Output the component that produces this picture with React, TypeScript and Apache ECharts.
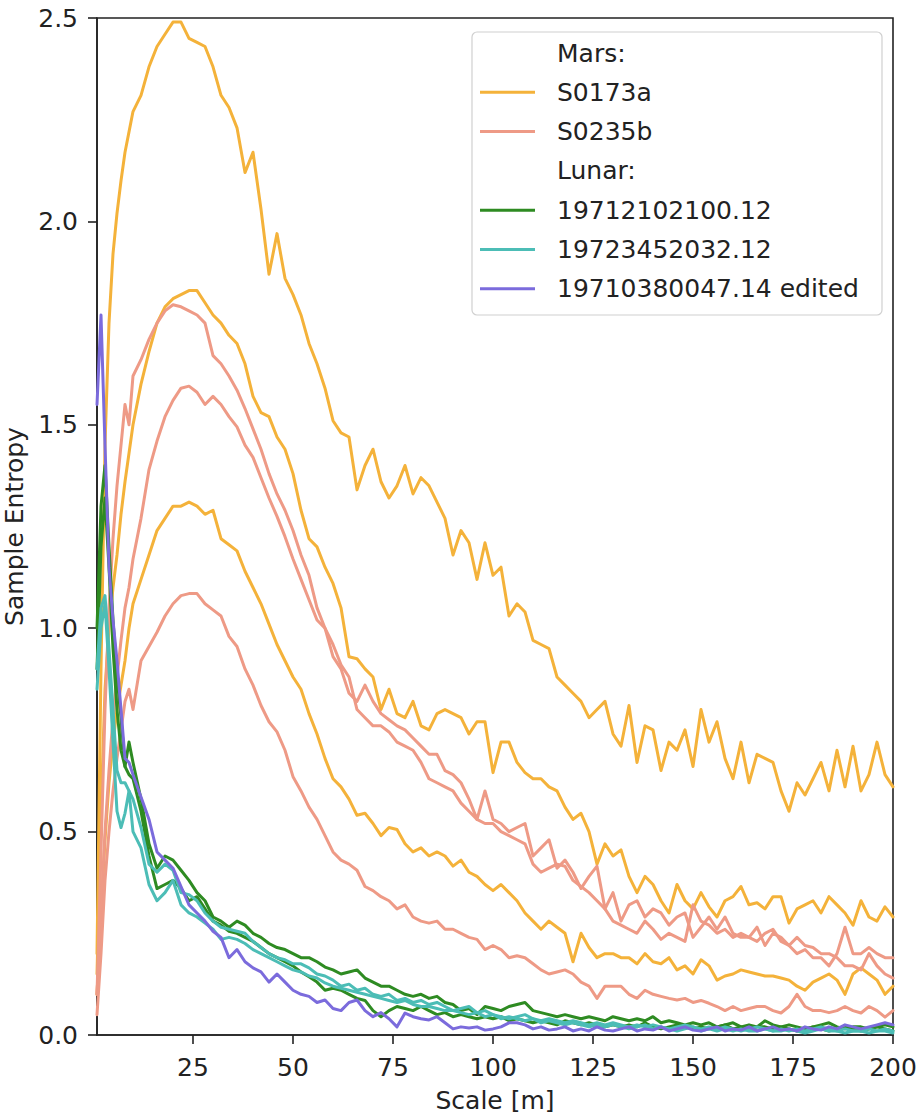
import React, { useEffect, useRef } from "react";
import * as echarts from "echarts";

// Scale values [m] shared by every curve
const scales = [
  1, 2, 3, 4, 5, 6, 7, 8, 9, 10,
  12, 14, 16, 18, 20, 22, 24, 26, 28, 30,
  32, 34, 36, 38, 40, 42, 44, 46, 48, 50,
  52, 54, 56, 58, 60, 62, 64, 66, 68, 70,
  72, 74, 76, 78, 80, 82, 84, 86, 88, 90,
  92, 94, 96, 98, 100, 102, 104, 106, 108, 110,
  112, 114, 116, 118, 120, 122, 124, 126, 128, 130,
  132, 134, 136, 138, 140, 142, 144, 146, 148, 150,
  152, 154, 156, 158, 160, 162, 164, 166, 168, 170,
  172, 174, 176, 178, 180, 182, 184, 186, 188, 190,
  192, 194, 196, 198, 200,
];

// Mars S0173a (three traces)
const marsA1 = [
  0.2, 0.9, 1.45, 1.75, 1.92, 2.02, 2.1, 2.17, 2.22, 2.27,
  2.31, 2.38, 2.43, 2.46, 2.49, 2.49, 2.45, 2.44, 2.43, 2.38,
  2.31, 2.28, 2.23, 2.12, 2.17, 2.03, 1.87, 1.97, 1.86, 1.82,
  1.77, 1.7, 1.65, 1.59, 1.51, 1.48, 1.47, 1.34, 1.4, 1.44,
  1.36, 1.32, 1.35, 1.4, 1.33, 1.37, 1.35, 1.31, 1.27, 1.18,
  1.24, 1.21, 1.12, 1.21, 1.13, 1.15, 1.03, 1.06, 1.04, 0.97,
  0.96, 0.95, 0.88, 0.86, 0.84, 0.82, 0.78, 0.8, 0.82, 0.74,
  0.71, 0.81, 0.67, 0.76, 0.75, 0.65, 0.72, 0.7, 0.75, 0.66,
  0.8, 0.72, 0.77, 0.68, 0.63, 0.72, 0.62, 0.69, 0.68, 0.67,
  0.6, 0.55, 0.62, 0.59, 0.63, 0.67, 0.6, 0.7, 0.61, 0.71,
  0.6, 0.64, 0.72, 0.64, 0.61,
];
const marsA2 = [
  0.15, 0.55, 0.85, 1.0, 1.1, 1.18, 1.28, 1.36, 1.43, 1.5,
  1.6, 1.68, 1.75, 1.79, 1.81, 1.82, 1.83, 1.83, 1.8, 1.77,
  1.75, 1.72, 1.7, 1.65, 1.57, 1.53, 1.52, 1.47, 1.44, 1.38,
  1.29, 1.22, 1.2, 1.15, 1.11, 1.05, 0.93, 0.925, 0.9, 0.88,
  0.8, 0.85, 0.79, 0.78, 0.82, 0.76, 0.75, 0.79, 0.8, 0.79,
  0.78, 0.74, 0.77, 0.77, 0.645, 0.72, 0.72, 0.67, 0.645, 0.63,
  0.63, 0.61, 0.6, 0.56, 0.53, 0.545, 0.5, 0.42, 0.47, 0.44,
  0.455, 0.39, 0.35, 0.39, 0.37, 0.33, 0.3, 0.37, 0.33, 0.31,
  0.35, 0.315, 0.29, 0.33, 0.34, 0.365, 0.32, 0.325, 0.31, 0.34,
  0.34, 0.275, 0.31, 0.32, 0.33, 0.3, 0.34, 0.32, 0.3, 0.27,
  0.33, 0.29, 0.28, 0.315, 0.29,
];
const marsA3 = [
  0.1, 0.3, 0.48, 0.62, 0.72, 0.8, 0.86, 0.92, 1.0, 1.06,
  1.12, 1.18, 1.24, 1.27, 1.3, 1.3, 1.31, 1.3, 1.28, 1.29,
  1.22, 1.205, 1.19, 1.14, 1.1, 1.06, 1.01, 0.96, 0.92, 0.88,
  0.85, 0.79, 0.74, 0.68, 0.63, 0.61, 0.58, 0.54, 0.545, 0.52,
  0.49, 0.51, 0.505, 0.47, 0.45, 0.46, 0.44, 0.45, 0.44, 0.415,
  0.43, 0.4, 0.39, 0.37, 0.355, 0.37, 0.35, 0.33, 0.3, 0.28,
  0.26, 0.28, 0.265, 0.25, 0.18, 0.25, 0.215, 0.19, 0.2, 0.2,
  0.19, 0.19, 0.175, 0.2, 0.18, 0.175, 0.19, 0.16, 0.17, 0.15,
  0.185, 0.17, 0.135, 0.145, 0.15, 0.16, 0.155, 0.15, 0.145, 0.145,
  0.14, 0.135, 0.12, 0.11, 0.13, 0.14, 0.15, 0.135, 0.1, 0.15,
  0.165, 0.15, 0.135, 0.1, 0.12,
];

// Mars S0235b (three traces)
const marsB1 = [
  0.1, 0.45, 0.8, 1.05, 1.22, 1.35, 1.45, 1.55, 1.5, 1.62,
  1.66, 1.71, 1.75, 1.78, 1.795, 1.79, 1.78, 1.77, 1.75, 1.67,
  1.65, 1.62, 1.585, 1.54, 1.49, 1.44, 1.38, 1.33, 1.29, 1.24,
  1.18, 1.13, 1.05, 1.0, 0.93, 0.9, 0.84, 0.82, 0.86, 0.82,
  0.79, 0.775, 0.76, 0.75, 0.73, 0.71, 0.69, 0.69, 0.65, 0.64,
  0.62, 0.58, 0.53, 0.6, 0.53, 0.52, 0.5, 0.51, 0.52, 0.44,
  0.46, 0.48, 0.41, 0.43, 0.4, 0.36, 0.39, 0.415, 0.31, 0.35,
  0.28, 0.32, 0.33, 0.29, 0.31, 0.3, 0.27, 0.29, 0.3, 0.24,
  0.265, 0.29, 0.26, 0.29, 0.25, 0.24, 0.24, 0.265, 0.22, 0.25,
  0.24, 0.22, 0.2, 0.21, 0.19, 0.19, 0.17, 0.2, 0.265, 0.2,
  0.2, 0.215, 0.2, 0.19, 0.19,
];
const marsB2 = [
  0.1, 0.3, 0.5, 0.65, 0.78, 0.88, 0.97, 1.05, 1.1, 1.17,
  1.27, 1.39, 1.46, 1.52, 1.56, 1.59, 1.595, 1.58, 1.55, 1.57,
  1.55, 1.52, 1.495, 1.45, 1.42, 1.37, 1.32, 1.275, 1.225, 1.17,
  1.12, 1.07, 1.02, 1.0, 0.96, 0.91, 0.88, 0.8, 0.78, 0.76,
  0.76, 0.745, 0.72, 0.71, 0.7, 0.67, 0.63, 0.62, 0.61, 0.6,
  0.57, 0.55, 0.53, 0.52, 0.52, 0.5, 0.49, 0.48, 0.47, 0.42,
  0.4, 0.41, 0.42, 0.415, 0.38, 0.365, 0.35, 0.33, 0.31, 0.28,
  0.27, 0.26, 0.25, 0.28, 0.26, 0.235, 0.25, 0.24, 0.23, 0.32,
  0.28, 0.27, 0.25, 0.26, 0.24, 0.25, 0.24, 0.23, 0.25, 0.26,
  0.23, 0.22, 0.24, 0.22, 0.215, 0.2, 0.2, 0.19, 0.17, 0.17,
  0.16, 0.2, 0.17, 0.15, 0.14,
];
const marsB3 = [
  0.05, 0.2, 0.38, 0.5, 0.6, 0.68, 0.75, 0.82, 0.85, 0.8,
  0.92, 0.955, 0.99, 1.03, 1.06, 1.08, 1.085, 1.085, 1.06, 1.045,
  1.03, 0.98, 0.955, 0.9, 0.86, 0.81, 0.77, 0.745, 0.7, 0.635,
  0.6, 0.56, 0.53, 0.49, 0.45, 0.43, 0.42, 0.405, 0.365, 0.355,
  0.34, 0.33, 0.31, 0.32, 0.29, 0.28, 0.275, 0.28, 0.26, 0.26,
  0.25, 0.24, 0.235, 0.21, 0.22, 0.21, 0.19, 0.195, 0.19, 0.175,
  0.16, 0.15, 0.155, 0.16, 0.15, 0.13, 0.12, 0.09, 0.12, 0.12,
  0.12, 0.1, 0.09, 0.11, 0.1, 0.095, 0.09, 0.086, 0.09, 0.08,
  0.085, 0.078, 0.07, 0.06, 0.07, 0.06, 0.065, 0.07, 0.07, 0.06,
  0.054, 0.07, 0.1, 0.07, 0.06, 0.06, 0.055, 0.06, 0.07, 0.06,
  0.054, 0.07, 0.06, 0.044, 0.06,
];

// Lunar 19712102100.12 (two traces)
const lunarG1 = [
  1.0, 1.3, 1.4, 1.2, 1.02, 0.88, 0.78, 0.66, 0.72, 0.67,
  0.58, 0.47, 0.41, 0.44, 0.43, 0.405, 0.38, 0.35, 0.33, 0.29,
  0.28, 0.265, 0.28, 0.27, 0.25, 0.24, 0.225, 0.215, 0.21, 0.2,
  0.19, 0.19, 0.18, 0.167, 0.16, 0.15, 0.155, 0.16, 0.14, 0.13,
  0.12, 0.12, 0.11, 0.1, 0.095, 0.1, 0.09, 0.095, 0.08, 0.075,
  0.06, 0.065, 0.05, 0.07, 0.065, 0.06, 0.07, 0.075, 0.08, 0.06,
  0.055, 0.05, 0.045, 0.05, 0.045, 0.04, 0.045, 0.04, 0.035, 0.045,
  0.04, 0.035, 0.04, 0.035, 0.045, 0.03, 0.035, 0.03, 0.025, 0.03,
  0.025, 0.03, 0.02, 0.025, 0.03, 0.02, 0.025, 0.02, 0.035, 0.025,
  0.02, 0.025, 0.02, 0.015, 0.02, 0.025, 0.03, 0.02, 0.015, 0.02,
  0.02, 0.015, 0.02, 0.025, 0.02,
];
const lunarG2 = [
  0.9, 1.2, 1.32, 1.15, 0.95, 0.8, 0.7, 0.66, 0.64, 0.63,
  0.55, 0.44, 0.36, 0.37, 0.38, 0.36, 0.33, 0.34, 0.31, 0.28,
  0.27, 0.255, 0.25, 0.24, 0.23, 0.215, 0.2, 0.19, 0.18, 0.17,
  0.155, 0.143, 0.13, 0.11, 0.115, 0.11, 0.1, 0.09, 0.085, 0.06,
  0.045, 0.06, 0.07, 0.065, 0.06, 0.07, 0.06, 0.05, 0.055, 0.045,
  0.05, 0.045, 0.04, 0.045, 0.04, 0.045, 0.035, 0.04, 0.035, 0.03,
  0.035, 0.03, 0.025, 0.035, 0.03, 0.025, 0.03, 0.025, 0.02, 0.025,
  0.02, 0.025, 0.02, 0.03, 0.02, 0.015, 0.02, 0.025, 0.02, 0.015,
  0.02, 0.015, 0.02, 0.025, 0.015, 0.02, 0.015, 0.02, 0.02, 0.015,
  0.02, 0.015, 0.01, 0.015, 0.02, 0.015, 0.01, 0.015, 0.02, 0.015,
  0.01, 0.015, 0.02, 0.015, 0.01,
];

// Lunar 19723452032.12 (two traces)
const lunarT1 = [
  0.9, 1.05, 1.08, 0.95, 0.8, 0.65, 0.62, 0.62, 0.6, 0.58,
  0.51, 0.42, 0.4, 0.42, 0.405, 0.35, 0.345, 0.33, 0.3, 0.28,
  0.265, 0.26, 0.255, 0.25, 0.23, 0.215, 0.2, 0.19, 0.185, 0.175,
  0.175, 0.165, 0.15, 0.145, 0.135, 0.12, 0.125, 0.11, 0.115, 0.1,
  0.095, 0.1, 0.085, 0.09, 0.08, 0.085, 0.075, 0.08, 0.07, 0.06,
  0.065, 0.07, 0.055, 0.06, 0.05, 0.045, 0.04, 0.045, 0.05, 0.04,
  0.035, 0.04, 0.035, 0.03, 0.035, 0.03, 0.025, 0.03, 0.025, 0.03,
  0.025, 0.02, 0.025, 0.02, 0.025, 0.02, 0.015, 0.02, 0.025, 0.02,
  0.015, 0.02, 0.015, 0.02, 0.015, 0.01, 0.015, 0.02, 0.015, 0.01,
  0.015, 0.01, 0.015, 0.01, 0.015, 0.02, 0.015, 0.01, 0.015, 0.01,
  0.01, 0.015, 0.01, 0.015, 0.01,
];
const lunarT2 = [
  0.85, 1.0, 1.06, 0.9, 0.72, 0.55, 0.51, 0.545, 0.6, 0.5,
  0.46, 0.37, 0.33, 0.35, 0.38, 0.32, 0.3, 0.29, 0.275, 0.26,
  0.235, 0.24, 0.235, 0.225, 0.21, 0.2, 0.19, 0.18, 0.17, 0.16,
  0.155, 0.145, 0.14, 0.128, 0.12, 0.115, 0.11, 0.105, 0.1, 0.095,
  0.09, 0.085, 0.08, 0.085, 0.075, 0.07, 0.07, 0.065, 0.06, 0.06,
  0.055, 0.05, 0.055, 0.045, 0.05, 0.04, 0.045, 0.04, 0.035, 0.04,
  0.03, 0.035, 0.03, 0.025, 0.03, 0.025, 0.02, 0.025, 0.02, 0.025,
  0.02, 0.015, 0.02, 0.025, 0.015, 0.02, 0.015, 0.01, 0.015, 0.02,
  0.01, 0.015, 0.01, 0.015, 0.01, 0.015, 0.01, 0.01, 0.015, 0.01,
  0.01, 0.015, 0.01, 0.005, 0.01, 0.015, 0.01, 0.01, 0.005, 0.01,
  0.01, 0.005, 0.01, 0.01, 0.005,
];

// Lunar 19710380047.14 edited
const lunarP = [
  1.55, 1.77, 1.45, 1.15, 1.02, 0.92, 0.8, 0.68, 0.67, 0.64,
  0.585, 0.53, 0.45, 0.43, 0.41, 0.365, 0.32, 0.3, 0.28, 0.255,
  0.24, 0.19, 0.21, 0.18, 0.165, 0.155, 0.13, 0.15, 0.13, 0.11,
  0.1, 0.095, 0.08, 0.086, 0.065, 0.06, 0.08, 0.086, 0.06, 0.045,
  0.055, 0.04, 0.02, 0.054, 0.045, 0.04, 0.037, 0.045, 0.03, 0.015,
  0.02, 0.017, 0.02, 0.012, 0.015, 0.02, 0.03, 0.03, 0.025, 0.015,
  0.02, 0.012, 0.015, 0.02, 0.01, 0.015, 0.01, 0.02, 0.012, 0.01,
  0.015, 0.02, 0.01, 0.015, 0.012, 0.02, 0.01, 0.015, 0.02, 0.012,
  0.01, 0.015, 0.02, 0.01, 0.015, 0.012, 0.02, 0.01, 0.015, 0.02,
  0.012, 0.015, 0.01, 0.02, 0.015, 0.012, 0.02, 0.015, 0.025, 0.02,
  0.015, 0.02, 0.025, 0.03, 0.025,
];

const xTickValues = [25, 50, 75, 100, 125, 150, 175, 200];

const ORANGE = "#F4B23A";
const SALMON = "#EE9A86";
const GREEN = "#2E8B22";
const TEAL = "#4CBDB6";
const PURPLE = "#7B6BDC";

const FONT = "DejaVu Sans";
const TEXT = "#222222";
const FS = 25;
const LW = 3;

const traces = [
  { name: "S0173a", color: ORANGE, values: marsA1 },
  { name: "S0173a", color: ORANGE, values: marsA2 },
  { name: "S0173a", color: ORANGE, values: marsA3 },
  { name: "S0235b", color: SALMON, values: marsB1 },
  { name: "S0235b", color: SALMON, values: marsB2 },
  { name: "S0235b", color: SALMON, values: marsB3 },
  { name: "19712102100.12", color: GREEN, values: lunarG1 },
  { name: "19712102100.12", color: GREEN, values: lunarG2 },
  { name: "19723452032.12", color: TEAL, values: lunarT1 },
  { name: "19723452032.12", color: TEAL, values: lunarT2 },
  { name: "19710380047.14 edited", color: PURPLE, values: lunarP },
];

const legendRows: { label: string; color: string | null }[] = [
  { label: "Mars:", color: null },
  { label: "S0173a", color: ORANGE },
  { label: "S0235b", color: SALMON },
  { label: "Lunar:", color: null },
  { label: "19712102100.12", color: GREEN },
  { label: "19723452032.12", color: TEAL },
  { label: "19710380047.14 edited", color: PURPLE },
];

export default function App() {
  const ref = useRef<HTMLDivElement>(null);

  useEffect(() => {
    if (!ref.current) return;
    const chart = echarts.init(ref.current, null, { renderer: "svg" });

    const legendGraphics: any[] = [
      {
        type: "rect",
        z: 100,
        shape: { x: 472, y: 32, width: 410, height: 283, r: 5 },
        style: { fill: "rgba(255,255,255,0.85)", stroke: "#d0d0d0", lineWidth: 1.2 },
      },
    ];
    legendRows.forEach((row, i) => {
      const y = 53 + i * 39.3;
      if (row.color) {
        legendGraphics.push({
          type: "line",
          z: 101,
          shape: { x1: 480, y1: y, x2: 535, y2: y },
          style: { stroke: row.color, lineWidth: LW },
        });
      }
      legendGraphics.push({
        type: "text",
        z: 101,
        x: 557,
        y,
        style: {
          text: row.label,
          fontSize: FS,
          fontFamily: FONT,
          fill: TEXT,
          verticalAlign: "middle",
          align: "left",
        },
      });
    });

    chart.setOption({
      animation: false,
      backgroundColor: "#ffffff",
      grid: {
        left: 97,
        right: 30,
        top: 18,
        bottom: 82,
        containLabel: false,
        outerBoundsMode: "none",
        show: true,
        borderColor: TEXT,
        borderWidth: 1.6,
        backgroundColor: "transparent",
      },
      xAxis: {
        type: "value",
        min: 1,
        max: 200,
        name: "Scale [m]",
        nameLocation: "middle",
        nameGap: 53,
        nameTextStyle: { fontSize: FS, fontFamily: FONT, color: TEXT },
        axisLine: { show: true, onZero: false, lineStyle: { color: TEXT, width: 1.6 } },
        axisTick: {
          show: true,
          length: 9,
          customValues: xTickValues,
          lineStyle: { color: TEXT, width: 1.6 },
        },
        axisLabel: {
          show: true,
          customValues: xTickValues,
          fontSize: FS,
          fontFamily: FONT,
          color: TEXT,
          margin: 20,
        },
        splitLine: { show: false },
      },
      yAxis: {
        type: "value",
        min: 0,
        max: 2.5,
        interval: 0.5,
        name: "Sample Entropy",
        nameLocation: "middle",
        nameGap: 67,
        nameTextStyle: { fontSize: FS, fontFamily: FONT, color: TEXT },
        axisLine: { show: true, lineStyle: { color: TEXT, width: 1.6 } },
        axisTick: { show: true, length: 9, lineStyle: { color: TEXT, width: 1.6 } },
        axisLabel: {
          fontSize: FS,
          fontFamily: FONT,
          color: TEXT,
          margin: 19,
          formatter: (v: number) => v.toFixed(1),
        },
        splitLine: { show: false },
      },
      series: traces.map((t, i) => ({
        type: "line",
        name: t.name,
        data: scales.map((s, j) => [s, t.values[j]]),
        showSymbol: false,
        symbol: "none",
        silent: true,
        z: 2 + i * 0.01,
        lineStyle: { color: t.color, width: LW, cap: "round", join: "round" },
        itemStyle: { color: t.color },
      })),
      graphic: legendGraphics,
    });

    return () => chart.dispose();
  }, []);

  return (
    <div
      ref={ref}
      style={{ position: "fixed", left: 0, top: 0, width: 923, height: 1117, background: "#fff" }}
    />
  );
}
